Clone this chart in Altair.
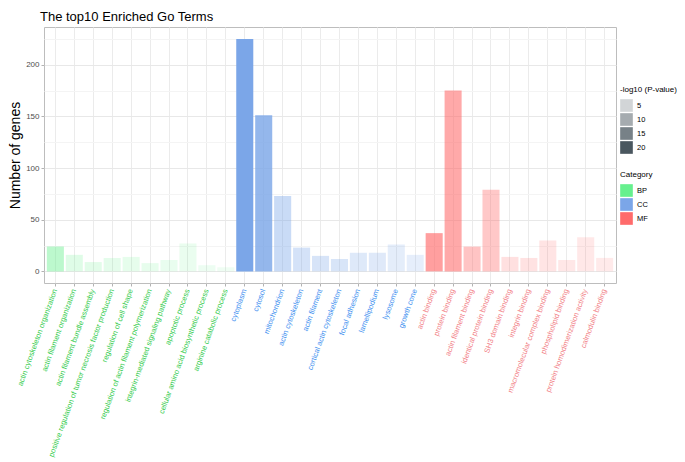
import altair as alt
import pandas as pd

bp_terms = [
    "actin cytoskeleton organization",
    "actin filament organization",
    "actin filament bundle assembly",
    "positive regulation of tumor necrosis factor production",
    "regulation of cell shape",
    "regulation of actin filament polymerization",
    "integrin-mediated signaling pathway",
    "apoptotic process",
    "cellular amino acid biosynthetic process",
    "arginine catabolic process",
]
bp_counts = [24, 16, 9, 13, 14, 8, 11, 27, 6, 4]
bp_logp = [9.5, 4.6, 4.2, 3.8, 3.6, 3.4, 3.2, 3.0, 2.6, 2.2]

cc_terms = [
    "cytoplasm",
    "cytosol",
    "mitochondrion",
    "actin cytoskeleton",
    "actin filament",
    "cortical actin cytoskeleton",
    "focal adhesion",
    "lamellipodium",
    "lysosome",
    "growth cone",
]
cc_counts = [225, 151, 73, 23, 15, 12, 18, 18, 26, 16]
cc_logp = [21.5, 17.5, 8.8, 7.0, 6.6, 6.4, 5.4, 5.3, 4.4, 4.2]

mf_terms = [
    "actin binding",
    "protein binding",
    "actin filament binding",
    "identical protein binding",
    "SH3 domain binding",
    "integrin binding",
    "macromolecular complex binding",
    "phospholipid binding",
    "protein homodimerization activity",
    "calmodulin binding",
]
mf_counts = [37, 175, 24, 79, 14, 13, 30, 11, 33, 13]
mf_logp = [14.0, 12.5, 8.6, 8.0, 4.6, 4.3, 3.9, 3.6, 3.3, 3.1]

categories = ["BP", "CC", "MF"]
cat_colors = ["#66F08E", "#7BA6E8", "#FF6B6B"]
label_colors = ["#33CC4D", "#3D8FF0", "#F27F87"]

rows = []
for cat, terms, counts, logp in [
    ("BP", bp_terms, bp_counts, bp_logp),
    ("CC", cc_terms, cc_counts, cc_logp),
    ("MF", mf_terms, mf_counts, mf_logp),
]:
    for t, c, p in zip(terms, counts, logp):
        rows.append({"term": t, "count": c, "logp": p, "Category": cat})
df = pd.DataFrame(rows)
order = bp_terms + cc_terms + mf_terms


def in_list(terms):
    return "indexof([" + ",".join("'" + t + "'" for t in terms) + "], datum.value) >= 0"


FONT = "Liberation Sans"
PW = 572

x = alt.X(
    "term:N",
    sort=order,
    title=None,
    scale=alt.Scale(paddingInner=0.1, paddingOuter=0.15),
    axis=alt.Axis(
        labelAngle=-70,
        labelAlign="right",
        labelBaseline="middle",
        labelFontSize=7.5,
        labelFont=FONT,
        labelColor={
            "condition": [
                {"test": in_list(mf_terms), "value": label_colors[2]},
                {"test": in_list(cc_terms), "value": label_colors[1]},
            ],
            "value": label_colors[0],
        },
        labelPadding=3,
        labelOverlap=False,
        labelLimit=0,
        tickSize=3,
        tickColor="#B3B3B3",
        grid=True,
        gridColor="#EBEBEB",
        domain=False,
    ),
)

y = alt.Y(
    "count:Q",
    title="Number of genes",
    scale=alt.Scale(domain=[-11.25, 236.5], nice=False),
    axis=alt.Axis(
        values=[0, 25, 50, 75, 100, 125, 150, 175, 200, 225],
        labelExpr="datum.value % 50 == 0 ? datum.label : ''",
        gridColor={
            "condition": {"test": "datum.value % 50 != 0", "value": "#F4F4F4"},
            "value": "#E8E8E8",
        },
        tickColor={
            "condition": {"test": "datum.value % 50 != 0", "value": "transparent"},
            "value": "#B3B3B3",
        },
        tickSize=3,
        labelFontSize=8,
        labelFont=FONT,
        labelColor="#4D4D4D",
        labelPadding=2,
        titleFontSize=14,
        titleFont=FONT,
        titleFontWeight="normal",
        titleColor="#000000",
        titlePadding=3,
        domain=False,
    ),
)

legend_common = dict(
    orient="none",
    legendX=PW + 4,
    symbolType="square",
    symbolSize=160,
    symbolStrokeWidth=0,
    titleFontSize=8,
    titleFontWeight="normal",
    titleFont=FONT,
    titleColor="#000000",
    labelFontSize=7.5,
    labelFont=FONT,
    labelColor="#000000",
    rowPadding=1,
)

chart = (
    alt.Chart(df)
    .mark_bar()
    .encode(
        x=x,
        y=y,
        y2=alt.datum(0),
        color=alt.Color(
            "Category:N",
            scale=alt.Scale(domain=categories, range=cat_colors),
            legend=alt.Legend(
                title="Category",
                legendY=144,
                symbolOpacity=1,
                **legend_common,
            ),
        ),
        opacity=alt.Opacity(
            "logp:Q",
            scale=alt.Scale(range=[0.1, 1], zero=False),
            legend=alt.Legend(
                title="-log10 (P-value)",
                legendY=59,
                values=[5, 10, 15, 20],
                symbolFillColor="#3C4A53",
                **legend_common,
            ),
        ),
    )
    .properties(
        width=PW,
        height=256,
        padding={"left": 0, "top": 3, "right": 0, "bottom": 0},
        title=alt.TitleParams(
            "The top10 Enriched Go Terms",
            anchor="start",
            frame="group",
            fontSize=13,
            fontWeight="normal",
            font=FONT,
            color="#000000",
            offset=3,
            dx=-4,
        ),
    )
    .configure_view(stroke="#BDBDBD", strokeWidth=1)
)

chart.save("out.html", embed_options={"renderer": "svg", "actions": False})
